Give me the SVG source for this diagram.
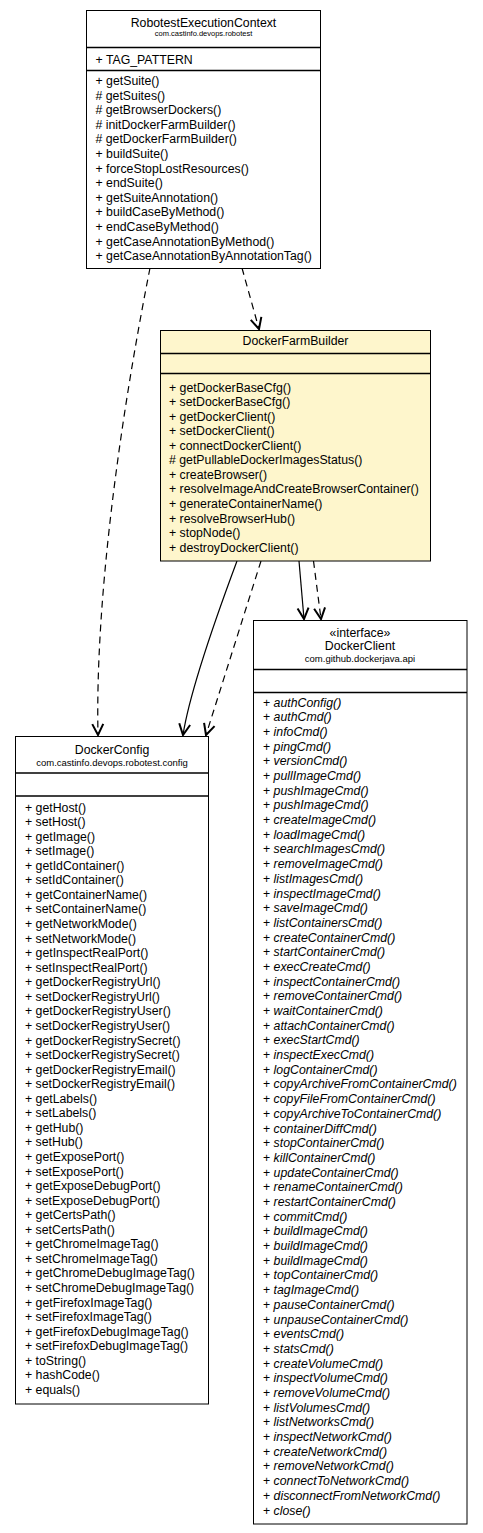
<svg xmlns="http://www.w3.org/2000/svg" width="483" height="1533" viewBox="0 0 483 1533">
<style>
.box{fill:#ffffff;stroke:#000000;stroke-width:1}
.sel{fill:#fef6cc;stroke:#000000;stroke-width:1}
.sep{stroke:#000000;stroke-width:1.3}
text{font-family:"Liberation Sans",Arial,sans-serif;fill:#000000}
.m{font-size:12.3px}
.t{font-size:12.3px;text-anchor:middle}
.p1{font-size:7.5px;text-anchor:middle}
.p{font-size:9.5px;text-anchor:middle}
.i{font-style:italic}
.c{fill:none;stroke:#000000;stroke-width:1.2}
.d{stroke-dasharray:7,5}
</style>
<defs>
<marker id="arr" markerUnits="userSpaceOnUse" markerWidth="14" markerHeight="14" viewBox="-12 -7 14 14" refX="0" refY="0" orient="auto">
<path d="M-11,-5.5 L0,0 L-11,5.5" fill="none" stroke="#000000" stroke-width="2"/>
</marker>
</defs>
<rect width="483" height="1533" fill="#ffffff"/>
<g id="connectors">
<path class="c d" d="M242,268 L259,329" marker-end="url(#arr)"/>
<path class="c d" d="M150,268 C120,420 95,600 98,735" marker-end="url(#arr)"/>
<path class="c" d="M237,561 C215,620 190,690 183,735" marker-end="url(#arr)"/>
<path class="c d" d="M261,561 L206,735" marker-end="url(#arr)"/>
<path class="c" d="M299,561 L304,619" marker-end="url(#arr)"/>
<path class="c d" d="M313.5,561 L321,619" marker-end="url(#arr)"/>
</g>
<g id="RobotestExecutionContext">
<rect class="box" x="86.5" y="10.5" width="234" height="258"/>
<text class="t" x="203.5" y="26.5">RobotestExecutionContext</text>
<text class="p1" x="203.5" y="36">com.castinfo.devops.robotest</text>
<line class="sep" x1="86.5" y1="47.5" x2="320.5" y2="47.5"/>
<text class="m" x="95.5" y="64">+ TAG_PATTERN</text>
<line class="sep" x1="86.5" y1="70.5" x2="320.5" y2="70.5"/>
<text class="m">
<tspan x="95.5" y="85">+ getSuite()</tspan>
<tspan x="95.5" y="99.6"># getSuites()</tspan>
<tspan x="95.5" y="114.2"># getBrowserDockers()</tspan>
<tspan x="95.5" y="128.8"># initDockerFarmBuilder()</tspan>
<tspan x="95.5" y="143.4"># getDockerFarmBuilder()</tspan>
<tspan x="95.5" y="158">+ buildSuite()</tspan>
<tspan x="95.5" y="172.6">+ forceStopLostResources()</tspan>
<tspan x="95.5" y="187.2">+ endSuite()</tspan>
<tspan x="95.5" y="201.8">+ getSuiteAnnotation()</tspan>
<tspan x="95.5" y="216.4">+ buildCaseByMethod()</tspan>
<tspan x="95.5" y="231">+ endCaseByMethod()</tspan>
<tspan x="95.5" y="245.6">+ getCaseAnnotationByMethod()</tspan>
<tspan x="95.5" y="260.2">+ getCaseAnnotationByAnnotationTag()</tspan>
</text>
</g>
<g id="DockerFarmBuilder">
<rect class="sel" x="160.5" y="330.5" width="270" height="230.5"/>
<text class="t" x="295.5" y="344.5">DockerFarmBuilder</text>
<line class="sep" x1="160.5" y1="353.5" x2="430.5" y2="353.5"/>
<line class="sep" x1="160.5" y1="373.5" x2="430.5" y2="373.5"/>
<text class="m">
<tspan x="169" y="391.5">+ getDockerBaseCfg()</tspan>
<tspan x="169" y="406.1">+ setDockerBaseCfg()</tspan>
<tspan x="169" y="420.6">+ getDockerClient()</tspan>
<tspan x="169" y="435.2">+ setDockerClient()</tspan>
<tspan x="169" y="449.7">+ connectDockerClient()</tspan>
<tspan x="169" y="464.3"># getPullableDockerImagesStatus()</tspan>
<tspan x="169" y="478.8">+ createBrowser()</tspan>
<tspan x="169" y="493.4">+ resolveImageAndCreateBrowserContainer()</tspan>
<tspan x="169" y="507.9">+ generateContainerName()</tspan>
<tspan x="169" y="522.5">+ resolveBrowserHub()</tspan>
<tspan x="169" y="537">+ stopNode()</tspan>
<tspan x="169" y="551.6">+ destroyDockerClient()</tspan>
</text>
</g>
<g id="DockerConfig">
<rect class="box" x="15.5" y="736.5" width="193" height="667.5"/>
<text class="t" x="112" y="754">DockerConfig</text>
<text class="p" x="112" y="766">com.castinfo.devops.robotest.config</text>
<line class="sep" x1="15.5" y1="773" x2="208.5" y2="773"/>
<line class="sep" x1="15.5" y1="796" x2="208.5" y2="796"/>
<text class="m">
<tspan x="25" y="811.5">+ getHost()</tspan>
<tspan x="25" y="826.1">+ setHost()</tspan>
<tspan x="25" y="840.6">+ getImage()</tspan>
<tspan x="25" y="855.2">+ setImage()</tspan>
<tspan x="25" y="869.7">+ getIdContainer()</tspan>
<tspan x="25" y="884.3">+ setIdContainer()</tspan>
<tspan x="25" y="898.9">+ getContainerName()</tspan>
<tspan x="25" y="913.4">+ setContainerName()</tspan>
<tspan x="25" y="928">+ getNetworkMode()</tspan>
<tspan x="25" y="942.5">+ setNetworkMode()</tspan>
<tspan x="25" y="957.1">+ getInspectRealPort()</tspan>
<tspan x="25" y="971.7">+ setInspectRealPort()</tspan>
<tspan x="25" y="986.2">+ getDockerRegistryUrl()</tspan>
<tspan x="25" y="1000.8">+ setDockerRegistryUrl()</tspan>
<tspan x="25" y="1015.3">+ getDockerRegistryUser()</tspan>
<tspan x="25" y="1029.9">+ setDockerRegistryUser()</tspan>
<tspan x="25" y="1044.5">+ getDockerRegistrySecret()</tspan>
<tspan x="25" y="1059">+ setDockerRegistrySecret()</tspan>
<tspan x="25" y="1073.6">+ getDockerRegistryEmail()</tspan>
<tspan x="25" y="1088.1">+ setDockerRegistryEmail()</tspan>
<tspan x="25" y="1102.7">+ getLabels()</tspan>
<tspan x="25" y="1117.3">+ setLabels()</tspan>
<tspan x="25" y="1131.8">+ getHub()</tspan>
<tspan x="25" y="1146.4">+ setHub()</tspan>
<tspan x="25" y="1160.9">+ getExposePort()</tspan>
<tspan x="25" y="1175.5">+ setExposePort()</tspan>
<tspan x="25" y="1190.1">+ getExposeDebugPort()</tspan>
<tspan x="25" y="1204.6">+ setExposeDebugPort()</tspan>
<tspan x="25" y="1219.2">+ getCertsPath()</tspan>
<tspan x="25" y="1233.7">+ setCertsPath()</tspan>
<tspan x="25" y="1248.3">+ getChromeImageTag()</tspan>
<tspan x="25" y="1262.9">+ setChromeImageTag()</tspan>
<tspan x="25" y="1277.4">+ getChromeDebugImageTag()</tspan>
<tspan x="25" y="1292">+ setChromeDebugImageTag()</tspan>
<tspan x="25" y="1306.5">+ getFirefoxImageTag()</tspan>
<tspan x="25" y="1321.1">+ setFirefoxImageTag()</tspan>
<tspan x="25" y="1335.7">+ getFirefoxDebugImageTag()</tspan>
<tspan x="25" y="1350.2">+ setFirefoxDebugImageTag()</tspan>
<tspan x="25" y="1364.8">+ toString()</tspan>
<tspan x="25" y="1379.3">+ hashCode()</tspan>
<tspan x="25" y="1393.9">+ equals()</tspan>
</text>
</g>
<g id="DockerClient">
<rect class="box" x="253.5" y="620.5" width="213.5" height="903.5"/>
<text class="t" x="360" y="637">«interface»</text>
<text class="t" x="360" y="650">DockerClient</text>
<text class="p" x="360" y="662">com.github.dockerjava.api</text>
<line class="sep" x1="253.5" y1="669.5" x2="467" y2="669.5"/>
<line class="sep" x1="253.5" y1="692.5" x2="467" y2="692.5"/>
<text class="m">
<tspan x="263" y="706.5">+ <tspan class="i">authConfig()</tspan></tspan>
<tspan x="263" y="721.2">+ <tspan class="i">authCmd()</tspan></tspan>
<tspan x="263" y="735.9">+ <tspan class="i">infoCmd()</tspan></tspan>
<tspan x="263" y="750.6">+ <tspan class="i">pingCmd()</tspan></tspan>
<tspan x="263" y="765.3">+ <tspan class="i">versionCmd()</tspan></tspan>
<tspan x="263" y="780">+ <tspan class="i">pullImageCmd()</tspan></tspan>
<tspan x="263" y="794.6">+ <tspan class="i">pushImageCmd()</tspan></tspan>
<tspan x="263" y="809.3">+ <tspan class="i">pushImageCmd()</tspan></tspan>
<tspan x="263" y="824">+ <tspan class="i">createImageCmd()</tspan></tspan>
<tspan x="263" y="838.7">+ <tspan class="i">loadImageCmd()</tspan></tspan>
<tspan x="263" y="853.4">+ <tspan class="i">searchImagesCmd()</tspan></tspan>
<tspan x="263" y="868.1">+ <tspan class="i">removeImageCmd()</tspan></tspan>
<tspan x="263" y="882.8">+ <tspan class="i">listImagesCmd()</tspan></tspan>
<tspan x="263" y="897.5">+ <tspan class="i">inspectImageCmd()</tspan></tspan>
<tspan x="263" y="912.2">+ <tspan class="i">saveImageCmd()</tspan></tspan>
<tspan x="263" y="926.9">+ <tspan class="i">listContainersCmd()</tspan></tspan>
<tspan x="263" y="941.5">+ <tspan class="i">createContainerCmd()</tspan></tspan>
<tspan x="263" y="956.2">+ <tspan class="i">startContainerCmd()</tspan></tspan>
<tspan x="263" y="970.9">+ <tspan class="i">execCreateCmd()</tspan></tspan>
<tspan x="263" y="985.6">+ <tspan class="i">inspectContainerCmd()</tspan></tspan>
<tspan x="263" y="1000.3">+ <tspan class="i">removeContainerCmd()</tspan></tspan>
<tspan x="263" y="1015">+ <tspan class="i">waitContainerCmd()</tspan></tspan>
<tspan x="263" y="1029.7">+ <tspan class="i">attachContainerCmd()</tspan></tspan>
<tspan x="263" y="1044.4">+ <tspan class="i">execStartCmd()</tspan></tspan>
<tspan x="263" y="1059.1">+ <tspan class="i">inspectExecCmd()</tspan></tspan>
<tspan x="263" y="1073.8">+ <tspan class="i">logContainerCmd()</tspan></tspan>
<tspan x="263" y="1088.4">+ <tspan class="i">copyArchiveFromContainerCmd()</tspan></tspan>
<tspan x="263" y="1103.1">+ <tspan class="i">copyFileFromContainerCmd()</tspan></tspan>
<tspan x="263" y="1117.8">+ <tspan class="i">copyArchiveToContainerCmd()</tspan></tspan>
<tspan x="263" y="1132.5">+ <tspan class="i">containerDiffCmd()</tspan></tspan>
<tspan x="263" y="1147.2">+ <tspan class="i">stopContainerCmd()</tspan></tspan>
<tspan x="263" y="1161.9">+ <tspan class="i">killContainerCmd()</tspan></tspan>
<tspan x="263" y="1176.6">+ <tspan class="i">updateContainerCmd()</tspan></tspan>
<tspan x="263" y="1191.3">+ <tspan class="i">renameContainerCmd()</tspan></tspan>
<tspan x="263" y="1206">+ <tspan class="i">restartContainerCmd()</tspan></tspan>
<tspan x="263" y="1220.7">+ <tspan class="i">commitCmd()</tspan></tspan>
<tspan x="263" y="1235.3">+ <tspan class="i">buildImageCmd()</tspan></tspan>
<tspan x="263" y="1250">+ <tspan class="i">buildImageCmd()</tspan></tspan>
<tspan x="263" y="1264.7">+ <tspan class="i">buildImageCmd()</tspan></tspan>
<tspan x="263" y="1279.4">+ <tspan class="i">topContainerCmd()</tspan></tspan>
<tspan x="263" y="1294.1">+ <tspan class="i">tagImageCmd()</tspan></tspan>
<tspan x="263" y="1308.8">+ <tspan class="i">pauseContainerCmd()</tspan></tspan>
<tspan x="263" y="1323.5">+ <tspan class="i">unpauseContainerCmd()</tspan></tspan>
<tspan x="263" y="1338.2">+ <tspan class="i">eventsCmd()</tspan></tspan>
<tspan x="263" y="1352.9">+ <tspan class="i">statsCmd()</tspan></tspan>
<tspan x="263" y="1367.6">+ <tspan class="i">createVolumeCmd()</tspan></tspan>
<tspan x="263" y="1382.2">+ <tspan class="i">inspectVolumeCmd()</tspan></tspan>
<tspan x="263" y="1396.9">+ <tspan class="i">removeVolumeCmd()</tspan></tspan>
<tspan x="263" y="1411.6">+ <tspan class="i">listVolumesCmd()</tspan></tspan>
<tspan x="263" y="1426.3">+ <tspan class="i">listNetworksCmd()</tspan></tspan>
<tspan x="263" y="1441">+ <tspan class="i">inspectNetworkCmd()</tspan></tspan>
<tspan x="263" y="1455.7">+ <tspan class="i">createNetworkCmd()</tspan></tspan>
<tspan x="263" y="1470.4">+ <tspan class="i">removeNetworkCmd()</tspan></tspan>
<tspan x="263" y="1485.1">+ <tspan class="i">connectToNetworkCmd()</tspan></tspan>
<tspan x="263" y="1499.8">+ <tspan class="i">disconnectFromNetworkCmd()</tspan></tspan>
<tspan x="263" y="1514.5">+ <tspan class="i">close()</tspan></tspan>
</text>
</g>
</svg>
